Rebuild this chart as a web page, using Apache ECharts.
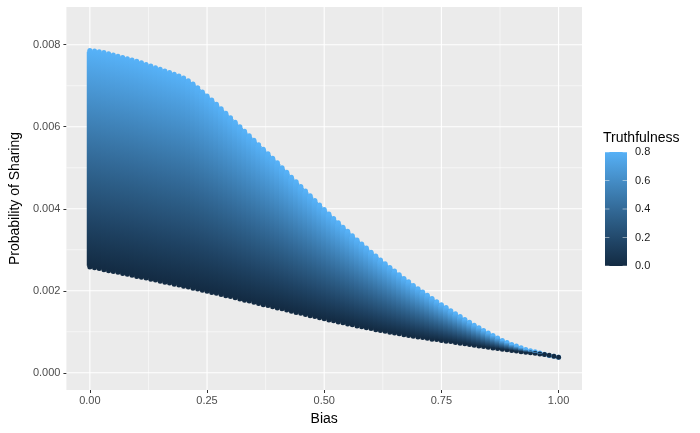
<!DOCTYPE html>
<html>
<head>
<meta charset="utf-8">
<script src="https://cdn.jsdelivr.net/npm/echarts@6/dist/echarts.min.js"></script>
<style>
html,body{margin:0;padding:0;background:#fff;}
#chart{width:700px;height:433px;}
</style>
</head>
<body>
<div id="chart"></div>
<script>
// ---- data ----
const bias = [];
for (let i = 0; i <= 100; i++) bias.push(+(i / 100).toFixed(2)); // grid of bias values 0.00..1.00
// probability of sharing at truthfulness = 0.8 (top of each column)
const upperProb = [
  0.00786,0.00785,0.00783,0.00781,0.00778,0.00775,0.00772,0.00769,0.00766,0.00763,
  0.00760,0.00756,0.00752,0.00748,0.00744,0.00740,0.00736,0.00732,0.00728,0.00724,
  0.00719,0.00712,0.00704,0.00695,0.00685,0.00675,0.00665,0.00655,0.00644,0.00633,
  0.00622,0.00611,0.00600,0.00589,0.00578,0.00567,0.00556,0.00545,0.00534,0.00523,
  0.00512,0.00500,0.00489,0.00477,0.00466,0.00454,0.00443,0.00432,0.00420,0.00409,
  0.00398,0.00387,0.00376,0.00366,0.00355,0.00345,0.00334,0.00324,0.00314,0.00304,
  0.00294,0.00285,0.00275,0.00266,0.00257,0.00248,0.00239,0.00230,0.00222,0.00213,
  0.00205,0.00197,0.00189,0.00181,0.00173,0.00166,0.00159,0.00151,0.00144,0.00137,
  0.00130,0.00123,0.00116,0.00110,0.00103,0.00097,0.00091,0.00085,0.00079,0.00074,
  0.00069,0.00065,0.00061,0.00057,0.00054,0.00051,0.00048,0.00045,0.00042,0.00040,
  0.00038
];
// probability of sharing at truthfulness = 0.0 (bottom of each column)
const lowerProb = [
  0.00258,0.00256,0.00254,0.00251,0.00249,0.00247,0.00245,0.00242,0.00240,0.00238,
  0.00235,0.00233,0.00231,0.00228,0.00226,0.00223,0.00221,0.00219,0.00216,0.00214,
  0.00211,0.00209,0.00206,0.00204,0.00201,0.00199,0.00196,0.00194,0.00191,0.00188,
  0.00186,0.00183,0.00180,0.00177,0.00175,0.00172,0.00169,0.00166,0.00164,0.00161,
  0.00158,0.00156,0.00153,0.00150,0.00147,0.00145,0.00142,0.00139,0.00137,0.00134,
  0.00132,0.00129,0.00127,0.00124,0.00122,0.00119,0.00117,0.00114,0.00112,0.00110,
  0.00108,0.00105,0.00103,0.00101,0.00099,0.00097,0.00095,0.00093,0.00091,0.00089,
  0.00087,0.00086,0.00084,0.00082,0.00081,0.00079,0.00077,0.00076,0.00074,0.00072,
  0.00071,0.00069,0.00067,0.000655,0.00064,0.00062,0.000605,0.00059,0.000575,0.00056,
  0.000545,0.00053,0.000515,0.00050,0.00049,0.000475,0.00046,0.000445,0.00043,0.000405,
  0.00038
];
const truthRange = [0, 0.8];
const xMajorTicks = [0, 0.25, 0.5, 0.75, 1];
const xMinorTicks = [0.125, 0.375, 0.625, 0.875];
const yMajorTicks = [0, 0.002, 0.004, 0.006, 0.008];
const yMinorTicks = [0.001, 0.003, 0.005, 0.007];
const legendTicks = [0, 0.2, 0.4, 0.6, 0.8];

// ---- colour scale (ggplot default gradient, Lab interpolation) ----
const LOW = '#132B43', HIGH = '#56B1F7';
function hex2rgb(h){return [1,3,5].map(i=>parseInt(h.substr(i,2),16));}
function toLin(c){c/=255;return c<=0.04045?c/12.92:Math.pow((c+0.055)/1.055,2.4);}
function fromLin(c){const v=c<=0.0031308?12.92*c:1.055*Math.pow(c,1/2.4)-0.055;return Math.max(0,Math.min(255,Math.round(v*255)));}
const Xn=0.95047,Yn=1,Zn=1.08883;
function f(t){return t>0.008856?Math.cbrt(t):7.787*t+16/116;}
function fi(t){return t>0.206893?t*t*t:(t-16/116)/7.787;}
function rgb2lab(rgb){const [r,g,b]=rgb.map(toLin);
  const X=(0.4124*r+0.3576*g+0.1805*b)/Xn,Y=(0.2126*r+0.7152*g+0.0722*b)/Yn,Z=(0.0193*r+0.1192*g+0.9505*b)/Zn;
  const fx=f(X),fy=f(Y),fz=f(Z);return [116*fy-16,500*(fx-fy),200*(fy-fz)];}
function lab2rgb(lab){const fy=(lab[0]+16)/116,fx=fy+lab[1]/500,fz=fy-lab[2]/200;
  const X=fi(fx)*Xn,Y=fi(fy)*Yn,Z=fi(fz)*Zn;
  const r=3.2406*X-1.5372*Y-0.4986*Z,g=-0.9689*X+1.8758*Y+0.0415*Z,b=0.0557*X-0.2040*Y+1.0570*Z;
  return 'rgb('+[r,g,b].map(fromLin).join(',')+')';}
const labLo=rgb2lab(hex2rgb(LOW)),labHi=rgb2lab(hex2rgb(HIGH));
function colorAt(t){return lab2rgb(labLo.map((v,i)=>v+(labHi[i]-v)*t));}
// stops from top (high) to bottom (low)
const gradStops=[];
for(let k=0;k<=10;k++){gradStops.push({offset:k/10,color:colorAt(1-k/10)});}

const chart = echarts.init(document.getElementById('chart'), null, {renderer:'canvas'});

const GRID = {left:60, top:7, width:522, height:383};
const R = 2.5;     // point radius (px)
const BODY = 3.1;  // half-width of the column body, slightly wider to avoid seams

function vGridItem(lw){
  return function(params, api){
    const cs = params.coordSys;
    const p = api.coord([api.value(0), 0]);
    return {type:'line', shape:{x1:p[0], y1:cs.y, x2:p[0], y2:cs.y+cs.height},
      style:{stroke:'#ffffff', lineWidth:lw}, silent:true};
  };
}
function hGridItem(lw){
  return function(params, api){
    const cs = params.coordSys;
    const p = api.coord([0, api.value(1)]);
    return {type:'line', shape:{x1:cs.x, y1:p[1], x2:cs.x+cs.width, y2:p[1]},
      style:{stroke:'#ffffff', lineWidth:lw}, silent:true};
  };
}

const legendX = 605, legendW = 22, legendTop = 152, legendBottom = 266;
const FONT = 'Liberation Sans, Arial, sans-serif';
const legendGraphics = [
  {type:'text', left:603, top:131, style:{text:'Truthfulness', fontFamily:FONT, fontSize:14, fill:'#000'}},
  {type:'rect', shape:{x:legendX, y:legendTop, width:legendW, height:legendBottom-legendTop},
   style:{fill:new echarts.graphic.LinearGradient(0,0,0,1,gradStops)}}
];
legendTicks.forEach(v=>{
  const y = legendBottom - (v - truthRange[0])/(truthRange[1]-truthRange[0])*(legendBottom-legendTop);
  legendGraphics.push({type:'line', shape:{x1:legendX, y1:y, x2:legendX+4.4, y2:y}, style:{stroke:'rgba(255,255,255,0.6)', lineWidth:0.8}});
  legendGraphics.push({type:'line', shape:{x1:legendX+legendW-4.4, y1:y, x2:legendX+legendW, y2:y}, style:{stroke:'rgba(255,255,255,0.6)', lineWidth:0.8}});
  legendGraphics.push({type:'text', x:legendX+legendW+8, y:y, style:{text:v.toFixed(1), fontFamily:FONT, fontSize:11, fill:'#1a1a1a', verticalAlign:'middle', align:'left'}});
});

const option = {
  animation:false,
  backgroundColor:'#ffffff',
  grid:{left:GRID.left, top:GRID.top, width:GRID.width, height:GRID.height, show:true, backgroundColor:'#EBEBEB', borderWidth:0},
  xAxis:{
    type:'value', min:-0.05, max:1.05,
    name:'Bias', nameLocation:'middle', nameGap:22,
    nameTextStyle:{fontFamily:FONT, fontSize:14, color:'#000'},
    axisLine:{show:false, onZero:false},
    axisTick:{show:true, length:3, lineStyle:{color:'#333333', width:1}, customValues:xMajorTicks},
    axisLabel:{customValues:xMajorTicks, formatter:v=>(+v).toFixed(2), margin:5,
      fontFamily:FONT, fontSize:11, color:'#4D4D4D'},
    splitLine:{show:false}
  },
  yAxis:{
    type:'value', min:-0.00042, max:0.00892,
    name:'Probability of Sharing', nameLocation:'middle', nameGap:39,
    nameTextStyle:{fontFamily:FONT, fontSize:14, color:'#000'},
    axisLine:{show:false, onZero:false},
    axisTick:{show:true, length:3, lineStyle:{color:'#333333', width:1}, customValues:yMajorTicks},
    axisLabel:{customValues:yMajorTicks, formatter:v=>(+v).toFixed(3), margin:6,
      fontFamily:FONT, fontSize:11, color:'#4D4D4D'},
    splitLine:{show:false}
  },
  graphic:legendGraphics,
  series:[
    {type:'custom', z:1, data:xMinorTicks.map(v=>[v,0]), renderItem:vGridItem(0.55), silent:true},
    {type:'custom', z:1, data:yMinorTicks.map(v=>[0,v]), renderItem:hGridItem(0.55), silent:true},
    {type:'custom', z:1, data:xMajorTicks.map(v=>[v,0]), renderItem:vGridItem(1.1), silent:true},
    {type:'custom', z:1, data:yMajorTicks.map(v=>[0,v]), renderItem:hGridItem(1.1), silent:true},
    {
      type:'custom', z:3, silent:true,
      data: bias.map((b,i)=>[b, lowerProb[i], upperProb[i]]),
      encode:{x:0, y:[1,2]},
      renderItem:function(params, api){
        const b = api.value(0);
        const lo = api.coord([b, api.value(1)]);
        const hi = api.coord([b, api.value(2)]);
        const h = lo[1]-hi[1];
        const fill = h > 0.5
          ? new echarts.graphic.LinearGradient(0, hi[1], 0, lo[1], gradStops, true)
          : colorAt(0);
        const children = [
          {type:'circle', shape:{cx:hi[0], cy:hi[1], r:R}, style:{fill:colorAt(1)}},
          {type:'circle', shape:{cx:lo[0], cy:lo[1], r:R}, style:{fill:colorAt(0)}}
        ];
        if (h > 0.5) {
          const inset = Math.min(h/2, 1.2);
          children.push({type:'rect', shape:{x:hi[0]-BODY, y:hi[1]+inset, width:2*BODY, height:h-2*inset}, style:{fill:fill}});
          children.push({type:'rect', shape:{x:hi[0]-R, y:hi[1], width:2*R, height:h}, style:{fill:fill}});
        }
        return {type:'group', children:children};
      }
    }
  ]
};
chart.setOption(option);
</script>
</body>
</html>
